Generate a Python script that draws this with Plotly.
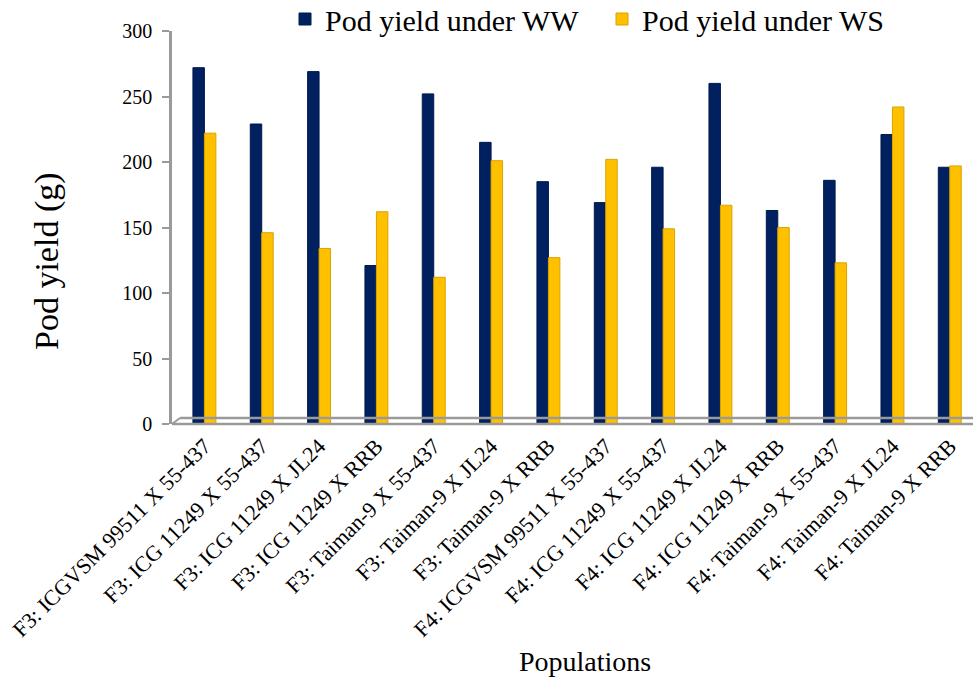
import plotly.graph_objects as go

populations = [
    "F3: ICGVSM 99511 X 55-437",
    "F3: ICG 11249 X 55-437",
    "F3: ICG 11249 X JL24",
    "F3: ICG 11249 X RRB",
    "F3: Taiman-9 X 55-437",
    "F3: Taiman-9 X JL24",
    "F3: Taiman-9 X RRB",
    "F4: ICGVSM 99511 X 55-437",
    "F4: ICG 11249 X 55-437",
    "F4: ICG 11249 X JL24",
    "F4: ICG 11249 X RRB",
    "F4: Taiman-9 X 55-437",
    "F4: Taiman-9 X JL24",
    "F4: Taiman-9 X RRB",
]
yield_ww = [272, 229, 269, 121, 252, 215, 185, 169, 196, 260, 163, 186, 221, 196]
yield_ws = [222, 146, 134, 162, 112, 201, 127, 202, 149, 167, 150, 123, 242, 197]
y_ticks = [0, 50, 100, 150, 200, 250, 300]

FONT = "Liberation Serif, Times New Roman, serif"
W, H = 973, 679
L, R, T, B = 172, 0, 31, 255
PW, PH = W - L - R, H - T - B

def px(x):
    return (x - L) / PW

def py(y):
    return (H - B - y) / PH

fig = go.Figure()
fig.add_trace(go.Bar(
    x=populations, y=yield_ww, name="Pod yield under WW",
    marker=dict(color="#002060", line=dict(color="#001a4d", width=1)),
))
fig.add_trace(go.Bar(
    x=populations, y=yield_ws, name="Pod yield under WS",
    marker=dict(color="#FFC000", line=dict(color="#d9a300", width=1)),
))

floor_color = "#9a9a9a"
shapes = [
    dict(type="line", xref="paper", yref="paper", x0=px(172), x1=px(973), y0=py(424), y1=py(424),
         line=dict(color=floor_color, width=2.5)),
    dict(type="line", xref="paper", yref="paper", x0=px(180), x1=px(973), y0=py(418), y1=py(418),
         line=dict(color=floor_color, width=2.5)),
    dict(type="line", xref="paper", yref="paper", x0=px(172), x1=px(180), y0=py(424), y1=py(418),
         line=dict(color=floor_color, width=2)),
]

fig.update_layout(
    width=W, height=H,
    margin=dict(l=L, r=R, t=T, b=B, autoexpand=False),
    paper_bgcolor="white", plot_bgcolor="white",
    font=dict(family=FONT, color="black"),
    barmode="group", bargap=0.6, bargroupgap=0,
    showlegend=True,
    legend=dict(
        orientation="h", x=px(285), xanchor="left", y=py(19), yanchor="middle",
        font=dict(family=FONT, size=30, color="black"),
        itemwidth=30, entrywidth=272, entrywidthmode="pixels",
        traceorder="normal", bgcolor="rgba(0,0,0,0)",
    ),
    shapes=shapes,
    annotations=[
        dict(text="Pod yield (g)", xref="paper", yref="paper", x=px(47), y=py(261),
             showarrow=False, textangle=-90, font=dict(family=FONT, size=34, color="black"),
             xanchor="center", yanchor="middle"),
        dict(text="Populations", xref="paper", yref="paper", x=px(585), y=py(661),
             showarrow=False, font=dict(family=FONT, size=28, color="black"),
             xanchor="center", yanchor="middle"),
    ],
)
fig.update_xaxes(
    type="category", range=[-0.565, 13.405],
    showline=False, showgrid=False, zeroline=False,
    tickangle=-45, ticks="", ticklabelstandoff=4,
    tickfont=dict(family=FONT, size=22, color="black"),
)
fig.update_yaxes(
    range=[0, 300], tickvals=y_ticks,
    showline=True, linecolor=floor_color, linewidth=2.5,
    ticks="outside", ticklen=7, tickcolor=floor_color, tickwidth=2,
    showgrid=False, zeroline=False, ticklabelstandoff=6,
    tickfont=dict(family=FONT, size=20, color="black"),
)

fig.write_html(
    "out.html",
    config={"displayModeBar": False},
    post_script="document.body.style.margin='0px';document.body.style.padding='0px';",
)
